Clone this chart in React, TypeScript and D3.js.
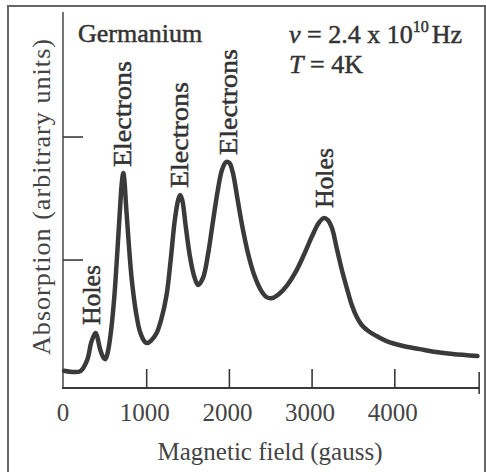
import React from 'react';
import * as d3 from 'd3';

// magnetic field (gauss) and absorption (arbitrary units)
const field = [0, 100, 200, 280, 330, 370, 383, 400, 440, 480, 500, 530, 570, 610, 650, 680, 700, 717, 730, 750, 780, 820, 870, 920, 980, 1010, 1060, 1120, 1180, 1240, 1290, 1340, 1380, 1405, 1430, 1470, 1520, 1570, 1620, 1680, 1740, 1800, 1860, 1910, 1960, 2000, 2040, 2100, 2160, 2230, 2300, 2380, 2450, 2520, 2600, 2700, 2800, 2900, 3000, 3080, 3140, 3190, 3240, 3300, 3360, 3420, 3480, 3540, 3600, 3680, 3780, 3900, 4100, 4300, 4500, 4700, 5000];
const absorption = [0.1, 0.09, 0.098, 0.187, 0.333, 0.398, 0.407, 0.382, 0.268, 0.203, 0.195, 0.252, 0.431, 0.715, 1.122, 1.447, 1.634, 1.707, 1.65, 1.447, 1.163, 0.837, 0.577, 0.415, 0.333, 0.325, 0.35, 0.407, 0.528, 0.715, 1.0, 1.325, 1.488, 1.528, 1.488, 1.285, 1.041, 0.878, 0.797, 0.854, 1.041, 1.309, 1.569, 1.732, 1.797, 1.789, 1.715, 1.488, 1.26, 1.041, 0.878, 0.756, 0.699, 0.691, 0.724, 0.797, 0.902, 1.041, 1.195, 1.301, 1.341, 1.325, 1.26, 1.089, 0.919, 0.772, 0.634, 0.537, 0.472, 0.423, 0.382, 0.341, 0.301, 0.276, 0.252, 0.236, 0.22];

const xTicks = [0, 1000, 2000, 3000, 4000];
const yTicks = [1, 2];

const peakLabels = ['Holes', 'Electrons', 'Electrons', 'Electrons', 'Holes'];
const peakField = [383, 717, 1405, 1960, 3140];
const peakAbs = [0.407, 1.707, 1.528, 1.797, 1.341];

const W = 486;
const H = 472;
const ink = '#3a3a3a';
const serif = '"Liberation Serif", "DejaVu Serif", serif';

export default function App() {
  const x = d3.scaleLinear().domain([0, 5000]).range([64, 477.5]);
  const y = d3.scaleLinear().domain([-0.04, 3]).range([388, 14]);

  const pts = field.map((f, i) => [f, absorption[i]] as [number, number]);
  const line = d3
    .line<[number, number]>()
    .x((d) => x(d[0]))
    .y((d) => y(d[1]))
    .curve(d3.curveCatmullRom.alpha(0.5));

  const axisY = y(-0.04);
  const labelDx = [4, 8, 8, 11, 9];
  const labelDy = [8, 6, 7, 7, 10];
  // scanned print looks slightly heavier than a plain font
  const heavy = { stroke: '#333', strokeWidth: 0.5 };

  return (
    <svg width={W} height={H} style={{ position: 'absolute', left: 0, top: 0, background: '#fff' }}>
      {/* frame of the scanned figure */}
      <rect x={8} y={6} width={477} height={480} fill="none" stroke="#666" strokeWidth={2} />

      {/* axes */}
      <line x1={63} x2={63} y1={12} y2={axisY} stroke={ink} strokeWidth={1.4} />
      <line x1={62} x2={x(5020)} y1={axisY} y2={axisY} stroke={ink} strokeWidth={2} />
      <line x1={x(5020)} x2={x(5020)} y1={axisY - 16} y2={axisY + 6} stroke={ink} strokeWidth={1.6} />
      {xTicks.slice(1).map((t) => (
        <line key={t} x1={x(t)} x2={x(t)} y1={axisY} y2={axisY - 19} stroke={ink} strokeWidth={1.6} />
      ))}
      {yTicks.map((t) => (
        <line key={t} x1={63} x2={83} y1={y(t)} y2={y(t)} stroke={ink} strokeWidth={1.6} />
      ))}

      {/* tick labels */}
      {xTicks.map((t) => (
        <text key={t} x={x(t) - (t === 0 ? 1 : 2)} y={421} textAnchor="middle" fontFamily={serif} fontSize={25} fill="#444">
          {t}
        </text>
      ))}

      <text x={270} y={460} textAnchor="middle" fontFamily={serif} fontSize={25} fill="#444">
        Magnetic field (gauss)
      </text>
      <text
        transform="translate(50,197) rotate(-90)"
        textAnchor="middle"
        fontFamily={serif}
        fontSize={26}
        fill="#444"
        textLength={316}
        lengthAdjust="spacing"
      >
        Absorption (arbitrary units)
      </text>

      {/* curve */}
      <path d={line(pts) || ''} fill="none" stroke={ink} strokeWidth={4.5} strokeLinejoin="round" strokeLinecap="round" />

      {/* peak labels */}
      {peakLabels.map((lab, i) => (
        <text
          key={i}
          transform={`translate(${x(peakField[i]) + labelDx[i]},${y(peakAbs[i]) - labelDy[i]}) rotate(-90)`}
          fontFamily={serif}
          fontSize={26}
          fill="#333"
          {...heavy}
          textLength={lab === 'Holes' ? 60 : 106}
          lengthAdjust="spacingAndGlyphs"
        >
          {lab}
        </text>
      ))}

      {/* annotations */}
      <text x={78} y={42} fontFamily={serif} fontSize={26} fill="#333" {...heavy}>
        Germanium
      </text>
      <text x={289} y={43} fontFamily={serif} fontSize={26} fill="#333" {...heavy}>
        <tspan fontStyle="italic">ν</tspan>
        <tspan> = 2.4 x 10</tspan>
        <tspan fontSize={16} dy={-11}>10</tspan>
        <tspan dy={11} dx={3}>Hz</tspan>
      </text>
      <text x={289} y={73} fontFamily={serif} fontSize={26} fill="#333" {...heavy}>
        <tspan fontStyle="italic">T</tspan>
        <tspan> = 4K</tspan>
      </text>
    </svg>
  );
}
